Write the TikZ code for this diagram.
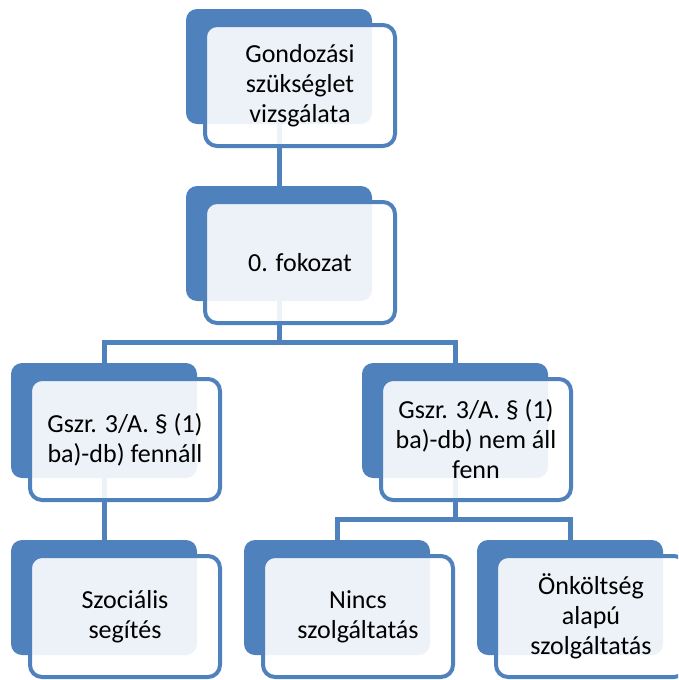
\documentclass[tikz,border=0pt]{standalone}
\usepackage{fontspec}
\setmainfont{Carlito}
\usetikzlibrary{positioning, backgrounds}
\definecolor{smartblue}{RGB}{79,129,189}

\begin{document}
\begin{tikzpicture}[x=1pt, y=-1pt,
    boxback/.style={rectangle, rounded corners=11pt, fill=smartblue, minimum width=186pt, minimum height=115pt, inner sep=0pt, outer sep=0pt},
    boxfront/.style={rectangle, rounded corners=12pt, draw=smartblue, line width=4pt, fill=white, fill opacity=0.9, text opacity=1, minimum width=190pt, minimum height=121pt, inner sep=0pt, outer sep=0pt, align=center, font=\fontsize{26}{30}\selectfont},
    conn/.style={draw=smartblue, line width=5pt}]
    \useasboundingbox (0,0) rectangle (678,680);
    \clip (0,0) rectangle (678,680);
    % back boxes
    \node[boxback] (b1) at (279,66.5) {};
    \node[boxback] (b2) at (279,243.5) {};
    \node[boxback] (b3) at (104,420.5) {};
    \node[boxback] (b4) at (455,420.5) {};
    \node[boxback] (b5) at (104,597.5) {};
    \node[boxback] (b6) at (337,597.5) {};
    \node[boxback] (b7) at (570,597.5) {};
    % front boxes with text
    \node[boxfront, below right=16pt and 19pt of b1.north west] (f1) {Gondozási\\szükséglet\\vizsgálata};
    \node[boxfront, below right=16pt and 19pt of b2.north west] (f2) {0. fokozat};
    \node[boxfront, below right=16pt and 19pt of b3.north west] (f3) {Gszr. 3/A. § (1)\\ba)-db) fennáll};
    \node[boxfront, below right=16pt and 19pt of b4.north west] (f4) {Gszr. 3/A. § (1)\\ba)-db) nem áll\\fenn};
    \node[boxfront, below right=16pt and 19pt of b5.north west] (f5) {Szociális\\segítés};
    \node[boxfront, below right=16pt and 19pt of b6.north west] (f6) {Nincs\\szolgáltatás};
    \node[boxfront, below right=16pt and 19pt of b7.north west] (f7) {Önköltség\\alapú\\szolgáltatás};
    % connectors
    \begin{scope}[on background layer]
        \draw[conn] (b1.south) -- (b2.north);
        \draw[conn] (b2.south) -- ++(0,41) -| (b3.north);
        \draw[conn] (b2.south) -- ++(0,41) -| (b4.north);
        \draw[conn] (b3.south) -- (b5.north);
        \draw[conn] (b4.south) -- ++(0,41) -| (b6.north);
        \draw[conn] (b4.south) -- ++(0,41) -| (b7.north);
    \end{scope}
\end{tikzpicture}
\end{document}
